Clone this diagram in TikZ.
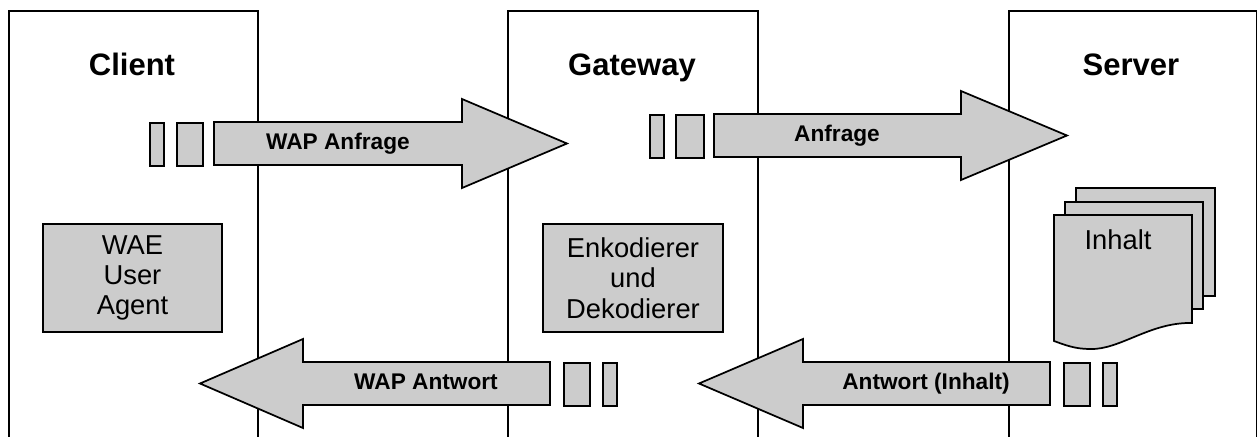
\documentclass[tikz,border=0pt]{standalone}
\usepackage{fontspec}
\setmainfont{Liberation Sans}
\definecolor{boxgray}{RGB}{204,204,204}
\tikzset{
  frame/.style={draw, line width=1.4pt, rectangle, inner sep=0pt, anchor=north west},
  title/.style={font=\bfseries\fontsize{23.25}{27}\selectfont, anchor=base, inner sep=0pt},
  flow/.style={draw, fill=boxgray, line width=1.3pt, line join=miter},
  flowlabel/.style={font=\bfseries\fontsize{17}{20}\selectfont, anchor=base, inner sep=0pt},
  unit/.style={draw, fill=boxgray, line width=1.3pt, rectangle, inner sep=0pt, align=center,
    font=\fontsize{20.5}{22.8}\selectfont},
  packet/.style={draw, fill=boxgray, line width=1.3pt, rectangle, inner sep=0pt,
    anchor=north west, minimum height=32.25pt},
  doctext/.style={font=\fontsize{20.5}{22.8}\selectfont, anchor=base, inner sep=0pt},
}
\begin{document}
\begin{tikzpicture}[x=0.75pt, y=-0.75pt]
\useasboundingbox (0,0) rectangle (1257,436);
\clip (0,0) rectangle (1257,436);

% the three parties, open towards the bottom
\node[frame, minimum width=186.75pt, minimum height=352.5pt] (client) at (8,10) {};
\node[frame, minimum width=187.5pt, minimum height=352.5pt] (gateway) at (507,10) {};
\node[frame, minimum width=186pt, minimum height=352.5pt] (server) at (1008,10) {};

\node[title] (tclient) at (132,75) {Client};
\node[title] (tgateway) at (632,75) {Gateway};
\node[title] (tserver) at (1131,75) {Server};

% request: client -> gateway
\node[packet, minimum width=10.5pt] (pa1) at (149,122) {};
\node[packet, minimum width=19.5pt] (pa2) at (176,122) {};
\draw[flow] (214,122) -- (462,122) -- (462,99) -- (567,143.5) -- (462,188) -- (462,165) -- (214,165) -- cycle;
\node[flowlabel] (lreq) at (338,149.5) {WAP Anfrage};

% request: gateway -> server
\node[packet, minimum width=10.5pt] (pb1) at (649,114) {};
\node[packet, minimum width=21pt] (pb2) at (675,114) {};
\draw[flow] (714,114) -- (961,114) -- (961,91) -- (1067,135.5) -- (961,180) -- (961,157) -- (714,157) -- cycle;
\node[flowlabel] (lfwd) at (837,141.5) {Anfrage};

% processing units
\node[unit, minimum width=134.25pt, minimum height=81pt] (agent) at (132.5,278) {WAE\\User\\Agent};
\node[unit, minimum width=135pt, minimum height=81pt] (codec) at (633,278) {Enkodierer\\und\\Dekodierer};

% stacked content documents
\draw[flow] (1076,188) rectangle (1215,296);
\draw[flow] (1065,202) rectangle (1203,309);
\draw[flow] (1054,215) -- (1192,215) -- (1192,323)
  .. controls (1150,322) and (1120,350) .. (1090,349)
  .. controls (1075,349) and (1065,345) .. (1054,341) -- cycle;
\node[doctext] (content) at (1118,249) {Inhalt};

% response: gateway -> client
\draw[flow] (550,362) -- (303,362) -- (303,339) -- (200,383.5) -- (303,428) -- (303,405) -- (550,405) -- cycle;
\node[packet, minimum width=19.5pt] (pc1) at (563,362) {};
\node[packet, minimum width=10.5pt] (pc2) at (602,362) {};
\node[flowlabel] (lresp) at (426,389.5) {WAP Antwort};

% response: server -> gateway
\draw[flow] (1050,362) -- (803,362) -- (803,339) -- (699,383.5) -- (803,428) -- (803,405) -- (1050,405) -- cycle;
\node[packet, minimum width=19.5pt] (pd1) at (1063,362) {};
\node[packet, minimum width=10.5pt] (pd2) at (1102,362) {};
\node[flowlabel] (lback) at (926,389.5) {Antwort (Inhalt)};
\end{tikzpicture}
\end{document}
